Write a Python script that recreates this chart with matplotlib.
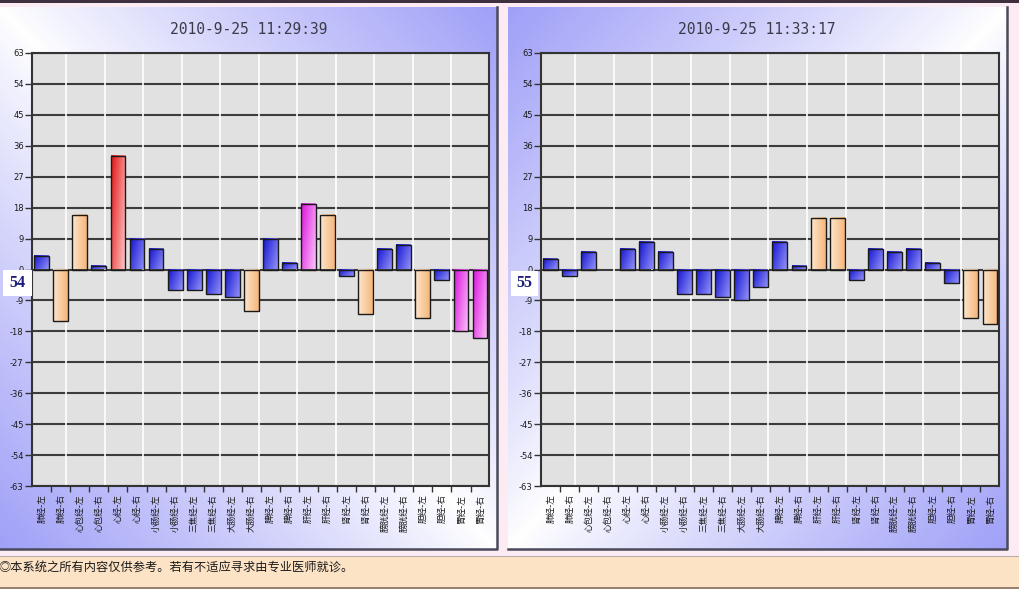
import matplotlib
matplotlib.use('Agg')
import matplotlib.pyplot as plt
import numpy as np
from matplotlib.patches import Rectangle

W, H = 1019, 589

# meridian names, left/right side for each
labels = ['肺经-左', '肺经-右', '心包经-左', '心包经-右', '心经-左', '心经-右',
          '小肠经-左', '小肠经-右', '三焦经-左', '三焦经-右', '大肠经-左', '大肠经-右',
          '脾经-左', '脾经-右', '肝经-左', '肝经-右', '肾经-左', '肾经-右',
          '膀胱经-左', '膀胱经-右', '胆经-左', '胆经-右', '胃经-左', '胃经-右']

# first measurement
title_1 = '2010-9-25 11:29:39'
score_1 = '54'
values_1 = [4, -15, 16, 1, 33, 9, 6, -6, -6, -7, -8, -12,
            9, 2, 19, 16, -2, -13, 6, 7, -14, -3, -18, -20]
kinds_1 = ['b', 'p', 'p', 'b', 'r', 'b', 'b', 'b', 'b', 'b', 'b', 'p',
           'b', 'b', 'm', 'p', 'b', 'p', 'b', 'b', 'p', 'b', 'm', 'm']

# second measurement
title_2 = '2010-9-25 11:33:17'
score_2 = '55'
values_2 = [3, -2, 5, 0, 6, 8, 5, -7, -7, -8, -9, -5,
            8, 1, 15, 15, -3, 6, 5, 6, 2, -4, -14, -16]
kinds_2 = ['b', 'b', 'b', 'b', 'b', 'b', 'b', 'b', 'b', 'b', 'b', 'b',
           'b', 'b', 'p', 'p', 'b', 'b', 'b', 'b', 'b', 'b', 'p', 'p']

footer = '◎本系统之所有内容仅供参考。若有不适应寻求由专业医师就诊。'

yticks = list(range(-63, 64, 9))

# dark corner -> light corner for each bar colour
GRAD = {
    'b': ((20, 20, 210), (145, 145, 248)),
    'r': ((228, 20, 20), (255, 205, 205)),
    'm': ((222, 20, 222), (250, 195, 250)),
    'p': ((253, 230, 204), (246, 182, 124)),
}

plt.rcParams['font.family'] = ['Noto Sans CJK SC', 'DejaVu Sans']

fig = plt.figure(figsize=(W / 100, H / 100), dpi=100)
fig.patch.set_facecolor('#fcebf2')


def frac_rect(x0, y0, x1, y1):
    """pixel box (top-left origin) -> figure fraction rect"""
    return [x0 / W, 1 - y1 / H, (x1 - x0) / W, (y1 - y0) / H]


def panel_background(x0, y0, x1, y1, mirror):
    bg = fig.add_axes(frac_rect(x0, y0, x1, y1))
    u, v = np.meshgrid(np.linspace(0, 1, 200), np.linspace(0, 1, 200))
    t = np.abs(u + v - 1) if mirror else np.abs(u - v)
    t = t ** 0.9
    blue = np.array([160, 160, 248]) / 255
    img = (1 - t[..., None]) * np.ones(3) + t[..., None] * blue
    bg.imshow(img, extent=[0, 1, 0, 1], aspect='auto')
    bg.set_xlim(0, 1)
    bg.set_ylim(0, 1)
    bg.axis('off')
    # frame on right and bottom
    bg.plot([0, 1, 1], [0.002, 0.002, 1], color='#4a4a5a', lw=1.8, clip_on=False)


def gradient_bar(ax, x, v, w, kind):
    if v == 0:
        return
    c0, c1 = GRAD[kind]
    c0 = np.array(c0) / 255
    c1 = np.array(c1) / 255
    u, s = np.meshgrid(np.linspace(0, 1, 24), np.linspace(0, 1, 24))
    if kind == 'p':
        t = u
    else:
        t = 0.65 * u + 0.35 * s
    img = (1 - t[..., None]) * c0 + t[..., None] * c1
    lo, hi = min(0, v), max(0, v)
    ax.imshow(img, extent=[x - w / 2, x + w / 2, lo, hi], aspect='auto',
              zorder=2, interpolation='bilinear')
    ax.add_patch(Rectangle((x - w / 2, lo), w, hi - lo, facecolor='none',
                           edgecolor='#1a1a1a', lw=1.0, zorder=3))


def draw_chart(rect, values, kinds, title, title_x, score, score_box):
    ax = fig.add_axes(frac_rect(*rect))
    ax.set_facecolor('#e1e1e1')
    x = np.arange(len(labels))
    for xi, v, k in zip(x, values, kinds):
        gradient_bar(ax, xi, v, 0.78, k)
    for gx in np.linspace(1.28, 21.5, 11):
        ax.axvline(gx, color='white', lw=1.2, zorder=1)
    ax.set_xlim(-0.51, 23.47)
    ax.set_ylim(-63, 63)
    ax.set_yticks(yticks)
    ax.set_yticklabels([str(t) for t in yticks], fontsize=6, color='#1a1a1a',
                       family='DejaVu Sans')
    ax.grid(axis='y', color='#3c3c3c', lw=1.5, zorder=1)
    ax.set_axisbelow(True)
    ax.set_xticks(x)
    ax.set_xticklabels(labels, rotation=90, fontsize=6.2, color='#1a1a1a',
                       va='top', ha='center')
    ax.set_xticks(x[:-1] + 0.5, minor=True)
    ax.tick_params(axis='x', which='major', length=0, pad=6)
    ax.tick_params(axis='x', which='minor', length=4, width=1, color='#333333')
    ax.tick_params(axis='y', length=5, width=1, color='#333333', pad=1)
    for sp in ax.spines.values():
        sp.set_color('#333333')
        sp.set_linewidth(1.5)

    fig.text(title_x / W, 1 - 29 / H, title, family='DejaVu Sans Mono',
             fontsize=10.5, color='#3a3a48', ha='center', va='center')

    bx0, by0, bx1, by1 = score_box
    fig.patches.append(Rectangle((bx0 / W, 1 - by1 / H), (bx1 - bx0) / W,
                                 (by1 - by0) / H, transform=fig.transFigure,
                                 facecolor='white', edgecolor='none', zorder=5))
    fig.text((bx0 + bx1) / 2 / W, 1 - (by0 + by1) / 2 / H, score,
             family='Liberation Serif', fontsize=11.5, fontweight='bold',
             color='#1c1c7c', ha='center', va='center', zorder=6)
    return ax


# top dark rule
fig.patches.append(Rectangle((0, 1 - 2.5 / H), 1, 2.5 / H, transform=fig.transFigure,
                             facecolor='#3e303e', edgecolor='none'))

panel_background(0, 7, 497, 550, mirror=False)
panel_background(508, 7, 1007, 550, mirror=True)

draw_chart((32, 53, 489, 486), values_1, kinds_1, title_1, 249, score_1,
           (3, 270, 32, 296))
draw_chart((541, 53, 999, 486), values_2, kinds_2, title_2, 757, score_2,
           (511, 271, 538, 296))

# footer band
fig.patches.append(Rectangle((0, 1 - 587 / H), 1, 31 / H, transform=fig.transFigure,
                             facecolor='#fde3c6', edgecolor='none', zorder=1))
fig.patches.append(Rectangle((0, 1 - 557 / H), 1, 1 / H, transform=fig.transFigure,
                             facecolor='#b8a8a8', edgecolor='none', zorder=1))
fig.patches.append(Rectangle((0, 0), 1, 2 / H, transform=fig.transFigure,
                             facecolor='#9a8070', edgecolor='none', zorder=1))
fig.text(-2 / W, 1 - 568 / H, footer, fontsize=8.8, color='#1a1a1a',
         ha='left', va='center', zorder=2)

fig.savefig('out.png', dpi=100)
